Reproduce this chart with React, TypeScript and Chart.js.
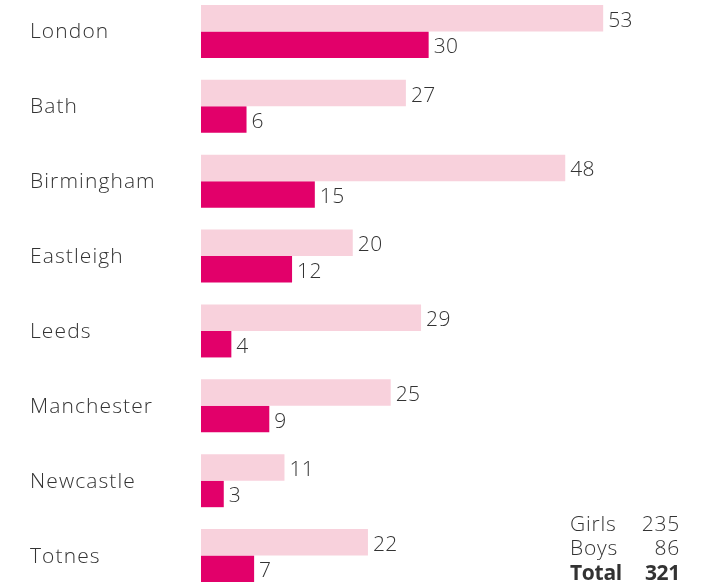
import React, { useEffect, useRef } from "react";
import { Chart, registerables } from "chart.js";

Chart.register(...registerables);

const categories = ["London", "Bath", "Birmingham", "Eastleigh", "Leeds", "Manchester", "Newcastle", "Totnes"];
const girls = [53, 27, 48, 20, 29, 25, 11, 22];
const boys = [30, 6, 15, 12, 4, 9, 3, 7];
const seriesNames = ["Girls", "Boys"];
const totalLabel = "Total";

const GIRLS_COLOR = "#f8d1dc";
const BOYS_COLOR = "#e2006a";
const TEXT_COLOR = "#333333";
const FONT_FAMILY = '"Open Sans", sans-serif';

export default function App() {
  const ref = useRef<HTMLCanvasElement | null>(null);

  useEffect(() => {
    document.body.style.margin = "0";
    const canvas = ref.current;
    if (!canvas) return;

    const labelsPlugin = {
      id: "customLabels",
      afterDatasetsDraw(chart: any) {
        const ctx = chart.ctx;
        ctx.save();
        ctx.fillStyle = TEXT_COLOR;
        ctx.textBaseline = "middle";
        // value labels
        ctx.font = `300 21px ${FONT_FAMILY}`;
        (ctx as any).letterSpacing = "0.4px";
        chart.data.datasets.forEach((ds: any, di: number) => {
          const meta = chart.getDatasetMeta(di);
          meta.data.forEach((bar: any, i: number) => {
            ctx.textAlign = "left";
            ctx.fillText(String(ds.data[i]), bar.x + 5, bar.y + 2.5);
          });
        });
        // category labels
        ctx.font = `300 21px ${FONT_FAMILY}`;
        (ctx as any).letterSpacing = "1.1px";
        const yScale = chart.scales.y;
        categories.forEach((c, i) => {
          const y = yScale.getPixelForValue(i);
          ctx.textAlign = "left";
          ctx.fillText(c, 30, y + 1);
        });
        // totals box
        const gSum = girls.reduce((a, b) => a + b, 0);
        const bSum = boys.reduce((a, b) => a + b, 0);
        const rows: [string, number, boolean][] = [
          [seriesNames[0], gSum, false],
          [seriesNames[1], bSum, false],
          [totalLabel, gSum + bSum, true],
        ];
        const baseY = 531; // canvas coords (canvas offset by -6)
        rows.forEach((r, k) => {
          const y = baseY + k * 24.5;
          ctx.font = `${r[2] ? 700 : 300} 21px ${FONT_FAMILY}`;
          (ctx as any).letterSpacing = r[2] ? "-0.3px" : "0.8px";
          ctx.textAlign = "left";
          ctx.fillText(r[0], 570, y);
          ctx.textAlign = "right";
          ctx.fillText(String(r[1]), 680, y);
        });
        ctx.restore();
      },
    };

    const chart = new Chart(canvas, {
      type: "bar",
      data: {
        labels: categories,
        datasets: [
          { label: seriesNames[0], data: girls, backgroundColor: GIRLS_COLOR, borderWidth: 0 },
          { label: seriesNames[1], data: boys, backgroundColor: BOYS_COLOR, borderWidth: 0 },
        ],
      },
      options: {
        indexAxis: "y",
        animation: false,
        responsive: false,
        maintainAspectRatio: false,
        layout: { padding: { left: 201, right: 1, top: 0, bottom: 1 } },
        datasets: { bar: { categoryPercentage: 0.708, barPercentage: 1 } },
        plugins: {
          legend: { display: false },
          tooltip: { enabled: false },
        },
        scales: {
          x: { display: false, min: 0, max: 68 },
          y: { display: false },
        },
      },
      plugins: [labelsPlugin],
    });
    return () => chart.destroy();
  }, []);

  return (
    <div style={{ position: "absolute", left: 0, top: -6, width: 718, height: 600 }}>
      <canvas ref={ref} width={718} height={600} style={{ width: 718, height: 600 }} />
    </div>
  );
}
